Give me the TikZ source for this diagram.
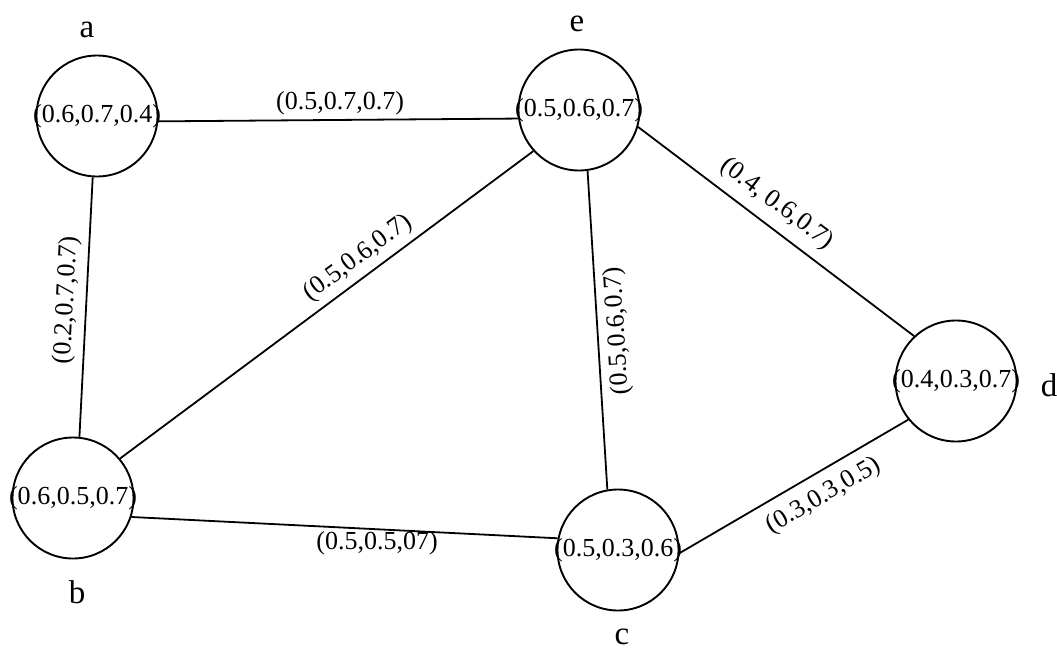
\documentclass[tikz,border=0pt]{standalone}
\usepackage{fontspec}
\setmainfont{Liberation Serif}
\begin{document}
\begin{tikzpicture}[x=1pt,y=-1pt,
  vert/.style={circle,draw,line width=1.9pt,minimum size=121pt,inner sep=0pt},
  val/.style={font=\fontsize{26}{30}\selectfont,inner sep=0pt},
  elab/.style={font=\fontsize{26}{30}\selectfont,inner sep=0pt},
  vname/.style={font=\fontsize{33}{38}\selectfont,inner sep=0pt,anchor=base},
  link/.style={line width=1.8pt}]
\useasboundingbox (0,0) rectangle (1057,648);
% vertices
\node[vert] (a) at (97,116) {};
\node[vert] (e) at (579,110) {};
\node[vert] (b) at (73,498) {};
\node[vert] (c) at (618,550) {};
\node[vert] (d) at (956,381) {};
% vertex values
\node[val] (ta) at (a.center) {(0.6,0.7,0.4)};
\node[val] (te) at (e.center) {(0.5,0.6,0.7)};
\node[val] (tb) at (b.center) {(0.6,0.5,0.7)};
\node[val] (tc) at (c.center) {(0.5,0.3,0.6)};
\node[val] (td) at (d.center) {(0.4,0.3,0.7)};
% vertex names
\node[vname] (na) at (87,37) {a};
\node[vname] (ne) at (577,31) {e};
\node[vname] (nb) at (77,603) {b};
\node[vname] (nc) at (622,644) {c};
\node[vname] (nd) at (1049,396) {d};
% edges
\draw[link] (a.-5) -- (e.-172);
\draw[link] (a.-94) -- (b.84);
\draw[link] (b.40) -- (e.-138);
\draw[link] (b.-18) -- (c.169);
\draw[link] (e.-82) -- (c.100);
\draw[link] (e.-16) -- (d.133);
\draw[link] (c.-3) -- (d.-141);
% edge labels
\node[elab] (lae) at (340,103) {(0.5,0.7,0.7)};
\node[elab,rotate=87] (lab) at (67,300) {(0.2,0.7,0.7)};
\node[elab,rotate=36.6] (lbe) at (358,258) {(0.5,0.6,0.7)};
\node[elab,rotate=93.5] (lec) at (618,331) {(0.5,0.6,0.7)};
\node[elab,rotate=-37] (led) at (777,204) {(0.4, 0.6,0.7)};
\node[elab,rotate=30.3] (lcd) at (824,496) {(0.3,0.3,0.5)};
\node[elab] (lbc) at (377,543) {(0.5,0.5,07)};
\end{tikzpicture}
\end{document}
